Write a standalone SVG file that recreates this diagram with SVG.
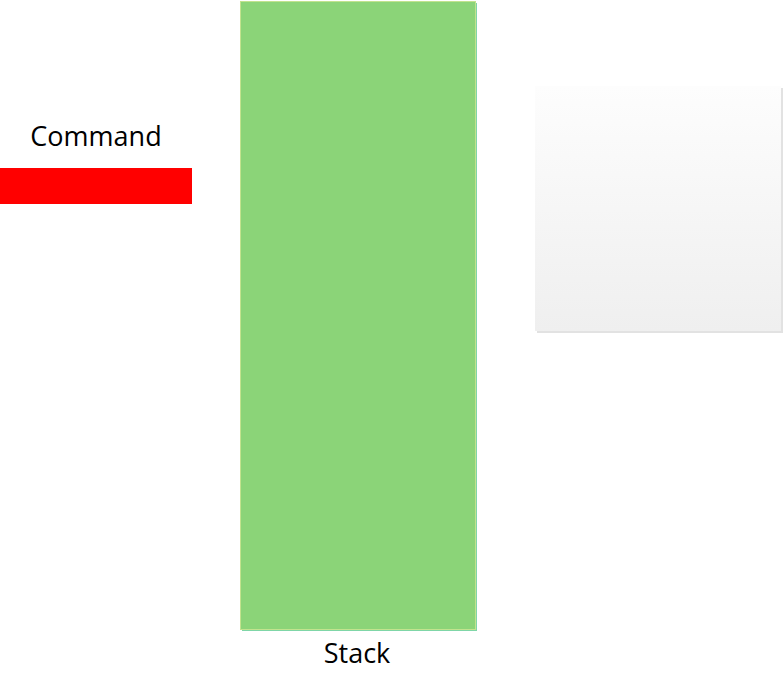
<svg xmlns="http://www.w3.org/2000/svg" width="783" height="674" viewBox="0 0 783 674">
<style>
.lbl{font-family:"Open Sans","Liberation Sans",sans-serif;font-size:27px;fill:#000;text-anchor:middle}
</style>
<defs>
<linearGradient id="gray" x1="0" y1="0" x2="0" y2="1">
<stop offset="0" stop-color="#fdfdfd"/>
<stop offset="1" stop-color="#efefef"/>
</linearGradient>
</defs>
<rect width="783" height="674" fill="#fff"/>
<g id="stack">
<rect x="242" y="3" width="235" height="628" fill="#7fd6a8"/>
<rect x="240.5" y="1.5" width="235" height="628" fill="#8bd478" stroke="#c2e38e" stroke-width="1"/>
<text class="lbl" x="357" y="663">Stack</text>
</g>
<g id="command">
<rect x="0" y="168" width="192" height="36" fill="#ff0000"/>
<text class="lbl" x="96" y="146">Command</text>
</g>
<g id="panel">
<rect x="537" y="88" width="246" height="245" fill="#e2e2e2"/>
<rect x="535" y="86" width="246" height="245" fill="url(#gray)"/>
</g>
<g id="connectors"/>
</svg>
